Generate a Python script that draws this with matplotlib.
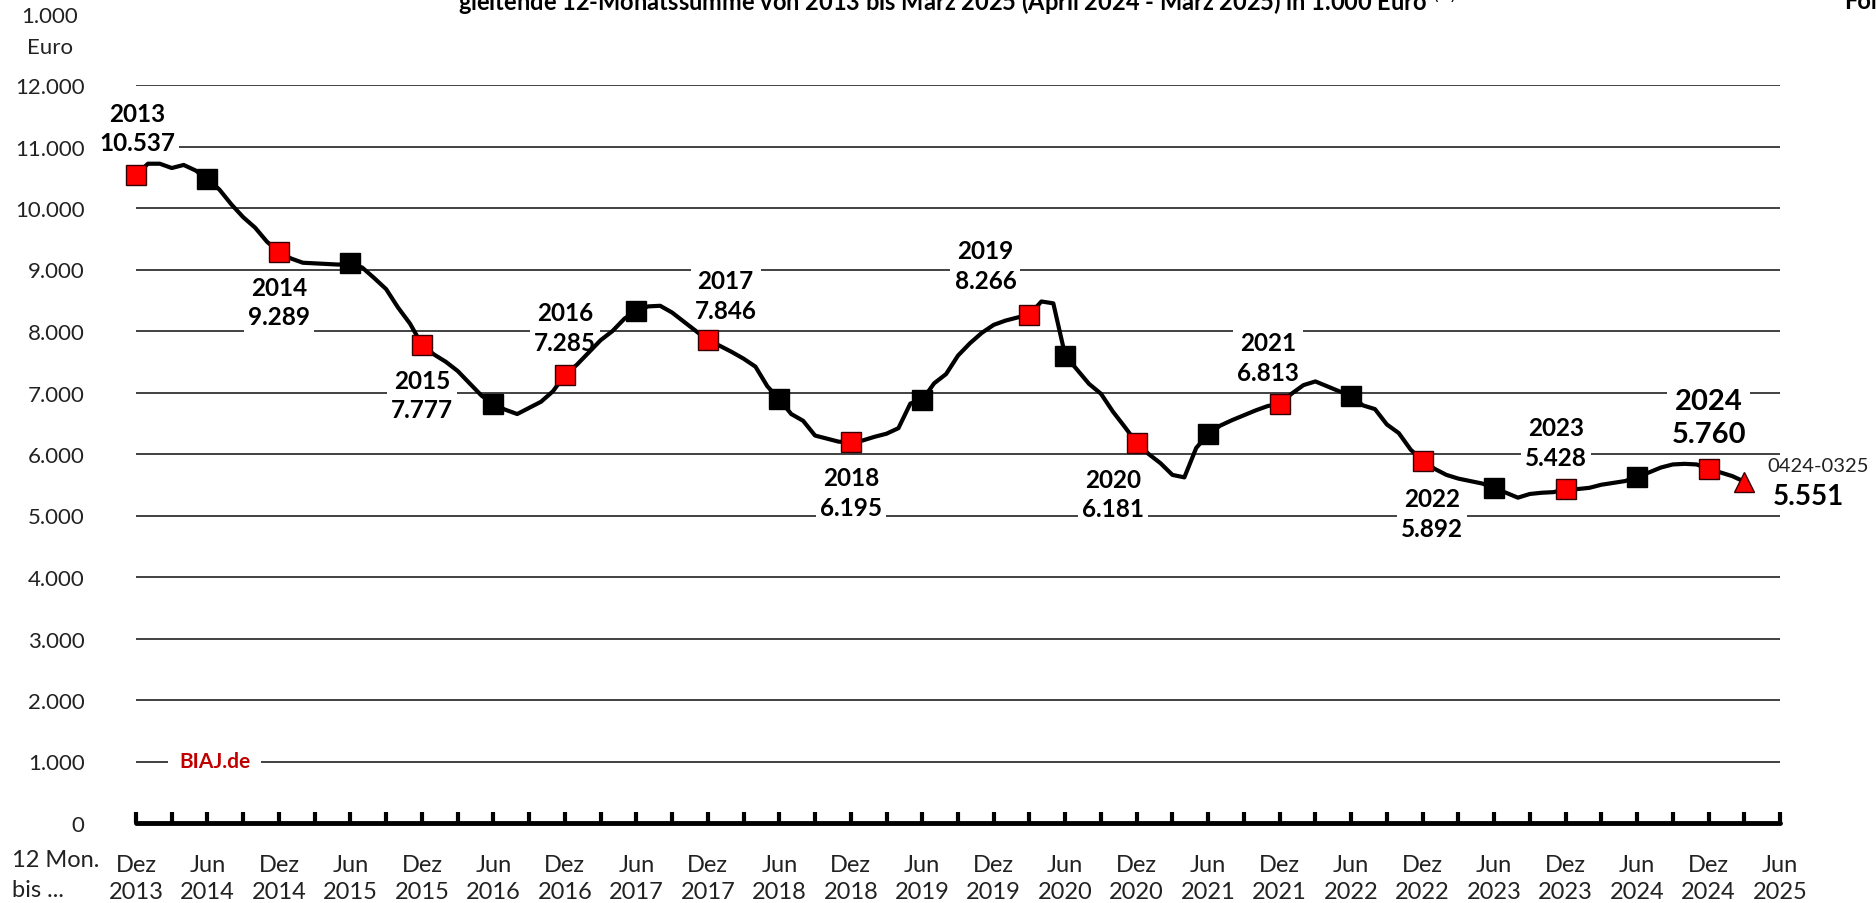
import numpy as np
import matplotlib
matplotlib.use("Agg")
import matplotlib.pyplot as plt

plt.rcParams['font.family'] = ['Lato', 'DejaVu Sans']

# gleitende 12-Monatssumme, monthly from Dez 2013 to Mar 2025, in 1.000 Euro
values = [
    10.537, 10.72, 10.72, 10.65, 10.70, 10.61, 10.47, 10.30, 10.06, 9.85, 9.68, 9.45,   # Dez13 - Nov14
    9.289, 9.18, 9.11, 9.10, 9.09, 9.08, 9.10, 9.03, 8.86, 8.68, 8.38, 8.12,           # Dez14 - Nov15
    7.777, 7.62, 7.50, 7.35, 7.15, 6.95, 6.81, 6.72, 6.65, 6.75, 6.85, 7.02,           # Dez15 - Nov16
    7.285, 7.45, 7.65, 7.85, 8.00, 8.20, 8.33, 8.40, 8.41, 8.30, 8.15, 8.00,           # Dez16 - Nov17
    7.846, 7.76, 7.66, 7.55, 7.42, 7.10, 6.89, 6.65, 6.54, 6.30, 6.25, 6.20,           # Dez17 - Nov18
    6.195, 6.22, 6.28, 6.33, 6.42, 6.82, 6.88, 7.15, 7.30, 7.60, 7.80, 7.97,           # Dez18 - Nov19
    8.10, 8.17, 8.22, 8.266, 8.48, 8.45, 7.60, 7.37, 7.14, 6.98, 6.69, 6.44,           # Dez19 - Nov20
    6.181, 6.00, 5.85, 5.66, 5.62, 6.10, 6.32, 6.46, 6.55, 6.63, 6.71, 6.78,           # Dez20 - Nov21
    6.813, 6.98, 7.12, 7.18, 7.10, 7.02, 6.94, 6.79, 6.73, 6.48, 6.34, 6.07,           # Dez21 - Nov22
    5.892, 5.76, 5.66, 5.60, 5.56, 5.52, 5.45, 5.37, 5.29, 5.35, 5.37, 5.38,           # Dez22 - Nov23
    5.428, 5.43, 5.45, 5.50, 5.53, 5.56, 5.63, 5.70, 5.78, 5.83, 5.84, 5.83,           # Dez23 - Nov24
    5.760, 5.70, 5.64, 5.551,                                                           # Dez24 - Mar25
]
values = np.array(values) * 1000

red_idx = [0, 12, 24, 36, 48, 60, 75, 84, 96, 108, 120, 132]
black_idx = [6, 18, 30, 42, 54, 66, 78, 90, 102, 114, 126]
last_idx = 135

years = ['2013', '2014', '2015', '2016', '2017', '2018', '2019', '2020', '2021', '2022', '2023', '2024']
year_vals = ['10.537', '9.289', '7.777', '7.285', '7.846', '6.195', '8.266', '6.181', '6.813', '5.892', '5.428', '5.760']
# label centre positions (month index, value)
lab_x = [0.1, 12, 24, 36, 49.5, 60, 71.3, 82, 95, 108.8, 119.2, 132]
lab_y = [11300, 8470, 6960, 8060, 8580, 5370, 9060, 5350, 7570, 5030, 6190, 6590]

tick_months = ['Dez', 'Jun']
tick_years = ['2013', '2014', '2014', '2015', '2015', '2016', '2016', '2017', '2017', '2018', '2018', '2019',
              '2019', '2020', '2020', '2021', '2021', '2022', '2022', '2023', '2023', '2024', '2024', '2025']

title = "gleitende 12-Monatssumme von 2013 bis März 2025 (April 2024 - März 2025) in 1.000 Euro $^{(1)}$"

fig = plt.figure(figsize=(18.76, 9.04), dpi=100)
ax = fig.add_axes([136/1876, 1-824/904, 1644/1876, 738/904])

x = np.arange(len(values))
ax.set_xlim(0, 138)
ax.set_ylim(0, 12000)

for yv in range(1000, 13000, 1000):
    ax.axhline(yv, color='#333333', lw=1.3, zorder=1)

ax.plot(x, values, color='black', lw=3, zorder=3, solid_joinstyle='round')
ax.plot(x[black_idx], values[black_idx], 's', ms=14, color='black', zorder=4, clip_on=False)
ax.plot(x[red_idx], values[red_idx], 's', ms=14, mfc='#ff0000', mec='#330000', mew=1, zorder=4, clip_on=False)
ax.plot(x[last_idx], values[last_idx], '^', ms=15, mfc='#ff0000', mec='#330000', mew=1, zorder=4, clip_on=False)

for i in range(len(years)):
    fs = 21 if i == len(years) - 1 else 17.5
    ax.text(lab_x[i], lab_y[i], years[i] + "\n" + year_vals[i], ha='center', va='center',
            fontsize=fs, fontweight='bold', linespacing=1.35, zorder=2, clip_on=False,
            bbox=dict(facecolor='white', edgecolor='none', pad=3))

ax.text(141.2, 5810, "0424-0325", ha='center', va='center', fontsize=14.5, color='#222222', clip_on=False)
ax.text(140.4, 5310, "5.551", ha='center', va='center', fontsize=20, fontweight='bold', clip_on=False)

ax.text(6.6, 1000, "BIAJ.de", ha='center', va='center', fontsize=15, fontweight='bold', color='#c00000',
        zorder=2, bbox=dict(facecolor='white', edgecolor='none', pad=8))

# axes styling
for s in ['top', 'right', 'left']:
    ax.spines[s].set_visible(False)
ax.spines['bottom'].set_linewidth(3.5)
ax.spines['bottom'].set_capstyle('round')

ax.set_yticks(range(0, 13000, 1000))
ax.set_yticklabels(['0'] + ['{:,}'.format(v).replace(',', '.') for v in range(1000, 13000, 1000)])
ax.tick_params(axis='y', length=0, pad=37, labelsize=16, labelcolor='#222222')

ax.set_xticks(range(0, 139, 6))
ax.set_xticklabels([tick_months[i % 2] + "\n" + tick_years[i] for i in range(24)])
ax.set_xticks(range(3, 139, 6), minor=True)
ax.tick_params(axis='x', which='both', direction='in', length=8, width=3, color='black',
               pad=22, labelsize=17, labelcolor='#222222')
for lab in ax.get_xticklabels():
    lab.set_linespacing(1.4)

fig.text(50/1876, 1 - 17/904, "1.000", ha='center', va='center', fontsize=16, color='#222222')
fig.text(50/1876, 1 - 48/904, "Euro", ha='center', va='center', fontsize=16, color='#222222')
fig.text(12/1876, 1 - 861/904, "12 Mon.", ha='left', va='center', fontsize=17, color='#222222')
fig.text(12/1876, 1 - 891/904, "bis ...", ha='left', va='center', fontsize=17, color='#222222')

fig.text(0.51, 0.998, title, ha='center', va='center', fontsize=17, fontweight='bold')
fig.text(0.983, 0.998, "Folge", ha='left', va='center', fontsize=17, fontweight='bold')

fig.savefig("out.png", dpi=100)
